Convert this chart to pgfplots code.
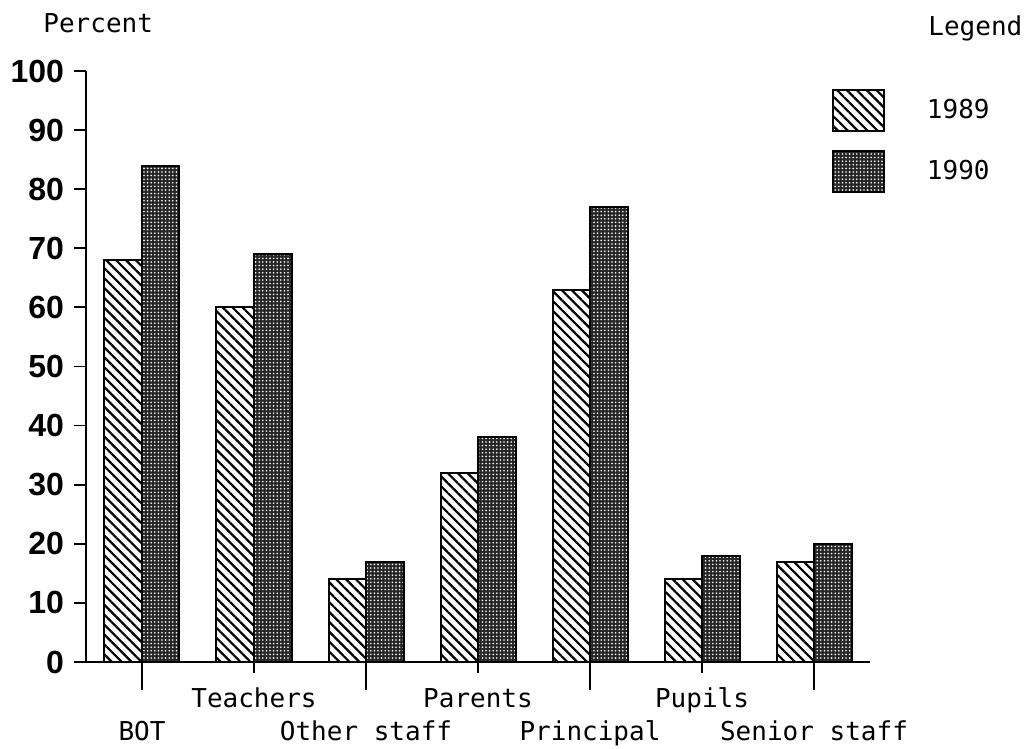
\documentclass[border=0pt]{standalone}
\usepackage{fontspec}
\setmainfont{DejaVu Sans Mono}
\newfontfamily\tickfont{Liberation Sans}
\usepackage{pgfplots}
\pgfplotsset{compat=1.18}
\usetikzlibrary{patterns.meta}

\pgfplotstableread{
x  y89  y90
0  68   84
1  60   69
2  14   17
3  32   38
4  63   77
5  14   18
6  17   20
}\datatable

\begin{document}
\begin{tikzpicture}
\begin{axis}[
  at={(0,0)}, anchor=south west,
  scale only axis,
  width=392pt, height=295.5pt,
  xmin=-0.5, xmax=6.5,
  ymin=0, ymax=100,
  axis x line=bottom, axis y line=left,
  axis line style={-, line width=1.2pt},
  ybar=0pt, bar width=18.75pt,
  tick align=outside,
  ytick={0,10,...,100},
  major tick length=14pt,
  y tick style={/pgfplots/major tick length=6pt},
  tick style={line width=0.9pt, black},
  yticklabel style={font=\tickfont\bfseries\fontsize{16}{16}\selectfont, anchor=east, xshift=6.5pt},
  /pgf/number format/assume math mode=true,
  xtick={0,2,4,6},
  xticklabels={BOT,Other staff,Principal,Senior staff},
  xticklabel style={font=\fontsize{13}{13}\selectfont, anchor=base, yshift=-25pt},
  extra x ticks={1,3,5},
  extra x tick labels={Teachers,Parents,Pupils},
  extra x tick style={grid=none, /pgfplots/major tick length=5.5pt,
    xticklabel style={yshift=8pt}},
  legend image code/.code={\draw[#1, line width=1pt] (0pt,-10.25pt) rectangle (25.5pt,10.25pt);},
  legend style={at={(rel axis cs:0.9515,0.9695)}, anchor=north west, draw=none, fill=none,
    inner sep=0pt, outer sep=0pt, row sep=8.75pt,
    font=\fontsize{13}{13}\selectfont,
    /tikz/every odd column/.append style={column sep=19pt}},
  legend cell align=left,
]
\addplot[draw=black, line width=1pt,
  pattern={Lines[angle=-45, distance=3.5pt, line width=1.1pt]}]
  table[x=x, y=y89] {\datatable};
\addlegendentry{1989}
\addplot[draw=black, line width=1pt, fill=black!85,
  postaction={pattern={Dots[distance=1.8pt, radius=0.45pt]}, pattern color=white}]
  table[x=x, y=y90] {\datatable};
\addlegendentry{1990}
\end{axis}
\node[anchor=base west, inner sep=0pt, font=\fontsize{13}{13}\selectfont] at (-21.5pt,314.5pt) {Percent};
\node[anchor=base west, inner sep=0pt, font=\fontsize{13}{13}\selectfont] at (421pt,313pt) {Legend};
\pgfresetboundingbox
\path (-43pt,-43pt) rectangle (472.5pt,331pt);
\end{tikzpicture}
\end{document}
